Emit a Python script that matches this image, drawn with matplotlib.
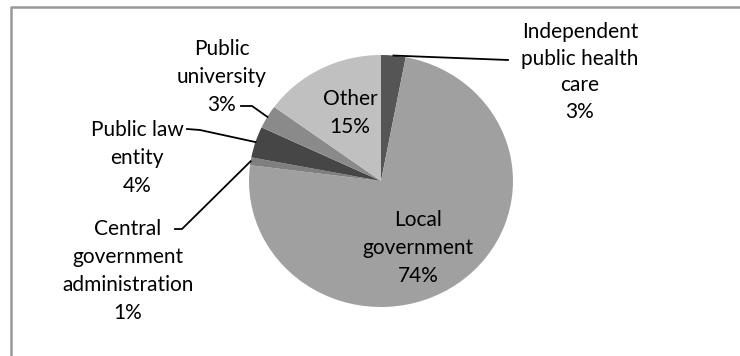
import numpy as np
import matplotlib.pyplot as plt
from matplotlib.lines import Line2D

W, H = 740, 356

# slices, clockwise from 12 o'clock
categories = [
    "Independent\npublic health\ncare",
    "Local\ngovernment",
    "Central\ngovernment\nadministration",
    "Public law\nentity",
    "Public\nuniversity",
    "Other",
]
shares = [3, 74, 1, 4, 3, 15]
colors = ["#555555", "#a0a0a0", "#7f7f7f", "#464646", "#8a8a8a", "#c0c0c0"]

# label centres (pixels from top-left) and line spacing
label_pos = [(580, 72), (418, 248), (128, 271), (137, 158), (222, 77), (350, 113)]
label_spacing = [1.43, 1.53, 1.48, 1.53, 1.53, 1.53]
# leader line: elbow point and end point next to the text (pixels)
leaders = {
    0: [(508, 60), (508, 60)],
    2: [(182, 229), (175, 229)],
    3: [(200, 130), (187, 129)],
    4: [(252, 106), (241, 106)],
}

plt.rcParams["font.family"] = ["Lato", "DejaVu Sans"]

fig = plt.figure(figsize=(W / 100, H / 100), dpi=100)
fig.patch.set_facecolor("white")


def fpos(px, py):
    return px / W, 1 - py / H


# pie box (slightly wider than tall)
ax = fig.add_axes([249 / W, (H - 307) / H, 264 / W, 252 / H])
wedges, _ = ax.pie(shares, colors=colors, startangle=90, counterclock=False,
                   radius=1, wedgeprops=dict(linewidth=0))
ax.set_aspect("auto")
ax.set_xlim(-1, 1)
ax.set_ylim(-1, 1)

to_fig = ax.transData + fig.transFigure.inverted()

for i, (name, share) in enumerate(zip(categories, shares)):
    x, y = label_pos[i]
    fx, fy = fpos(x, y)
    fig.text(fx, fy, f"{name}\n{share}%", ha="center", va="center",
             fontsize=15, linespacing=label_spacing[i], color="black")
    if i in leaders:
        w = wedges[i]
        mid = np.deg2rad((w.theta1 + w.theta2) / 2)
        ex, ey = to_fig.transform((np.cos(mid), np.sin(mid)))
        pts = [(ex, ey)] + [fpos(*p) for p in leaders[i]]
        fig.add_artist(Line2D([p[0] for p in pts], [p[1] for p in pts],
                              transform=fig.transFigure, color="black", lw=1.3))

# chart area border (top and left edges)
fig.add_artist(Line2D([11 / W, 11 / W, 1], [0, 1 - 7 / H, 1 - 7 / H],
                      transform=fig.transFigure, color="#999999", lw=1.8))

fig.savefig("out.png", dpi=100)
